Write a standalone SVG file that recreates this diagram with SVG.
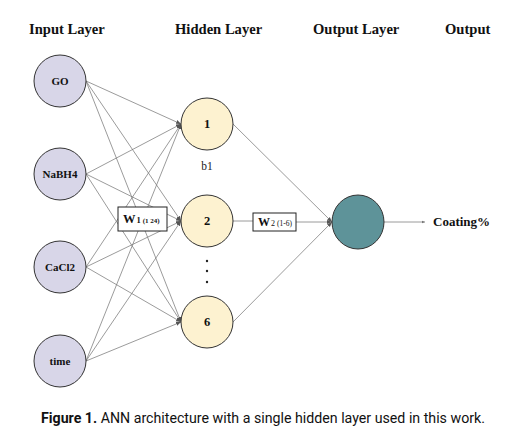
<svg xmlns="http://www.w3.org/2000/svg" width="519" height="437" viewBox="0 0 519 437">
<style>
.hdr{font-family:"Liberation Serif",serif;font-weight:bold;font-size:14.6px;fill:#111}
.lbl{font-family:"Liberation Serif",serif;font-weight:bold;font-size:11px;fill:#111;text-anchor:middle}
.num{font-family:"Liberation Serif",serif;font-weight:bold;font-size:12.5px;fill:#111;text-anchor:middle}
.in{fill:#d8d6e8;stroke:#333;stroke-width:1}
.hid{fill:#fdf2d0;stroke:#333;stroke-width:1}
.out{fill:#5e9399;stroke:#333;stroke-width:1}
.c{stroke:#7a7a7a;stroke-width:0.75;fill:none}
.box{fill:#fff;stroke:#222;stroke-width:1}
.cap{font-family:"Roboto","Liberation Sans",sans-serif;font-size:15px;fill:#111}
</style>
<defs>
<marker id="ah" viewBox="0 0 10 10" refX="10" refY="5" markerWidth="5" markerHeight="5" orient="auto" markerUnits="userSpaceOnUse">
<path d="M0,1 L10,5 L0,9 z" fill="#555"/>
</marker>
<marker id="ahs" viewBox="0 0 10 10" refX="10" refY="5" markerWidth="3.5" markerHeight="3.5" orient="auto" markerUnits="userSpaceOnUse">
<path d="M0,1 L10,5 L0,9 z" fill="#777"/>
</marker>
</defs>
<rect width="519" height="437" fill="#fff"/>
<text class="hdr" x="29" y="34">Input Layer</text>
<text class="hdr" x="175" y="34">Hidden Layer</text>
<text class="hdr" x="313" y="34">Output Layer</text>
<text class="hdr" x="445" y="34">Output</text>
<g id="connectors">
<line class="c" x1="86" y1="81" x2="181" y2="124" marker-end="url(#ah)"/>
<line class="c" x1="86" y1="81" x2="181" y2="221" marker-end="url(#ah)"/>
<line class="c" x1="86" y1="81" x2="181" y2="322" marker-end="url(#ah)"/>
<line class="c" x1="86" y1="174" x2="181" y2="124" marker-end="url(#ah)"/>
<line class="c" x1="86" y1="174" x2="181" y2="221" marker-end="url(#ah)"/>
<line class="c" x1="86" y1="174" x2="181" y2="322" marker-end="url(#ah)"/>
<line class="c" x1="86" y1="267" x2="181" y2="124" marker-end="url(#ah)"/>
<line class="c" x1="86" y1="267" x2="181" y2="221" marker-end="url(#ah)"/>
<line class="c" x1="86" y1="267" x2="181" y2="322" marker-end="url(#ah)"/>
<line class="c" x1="86" y1="361" x2="181" y2="124" marker-end="url(#ah)"/>
<line class="c" x1="86" y1="361" x2="181" y2="221" marker-end="url(#ah)"/>
<line class="c" x1="86" y1="361" x2="181" y2="322" marker-end="url(#ah)"/>
<line class="c" x1="233" y1="124" x2="332" y2="222" marker-end="url(#ah)"/>
<line class="c" x1="233" y1="322" x2="332" y2="222" marker-end="url(#ah)"/>
<line class="c" x1="233" y1="221" x2="253" y2="221"/>
<line class="c" x1="296" y1="222" x2="332" y2="222" marker-end="url(#ah)"/>
<line class="c" x1="384" y1="222" x2="425" y2="222" marker-end="url(#ahs)"/>
</g>
<g id="w1">
<rect class="box" x="118" y="207" width="49" height="24"/>
<text x="123" y="223" font-family="Liberation Serif,serif" font-weight="bold" fill="#111"><tspan font-size="12.5">W</tspan><tspan font-size="8.5" dx="1">1</tspan><tspan font-size="7" dx="2">(1 24)</tspan></text>
</g>
<g id="w2">
<rect class="box" x="253" y="213" width="43" height="18"/>
<text x="258" y="226" font-family="Liberation Serif,serif" font-weight="bold" fill="#111"><tspan font-size="12">W</tspan><tspan font-size="8" dx="1" font-weight="normal">2</tspan><tspan font-size="7.5" dx="2" font-weight="normal">(1-6)</tspan></text>
</g>
<g id="in-go"><ellipse class="in" cx="60" cy="81" rx="26" ry="26"/><text class="lbl" x="60" y="85">GO</text></g>
<g id="in-nabh4"><ellipse class="in" cx="60" cy="174" rx="26" ry="26"/><text class="lbl" x="60" y="178">NaBH4</text></g>
<g id="in-cacl2"><ellipse class="in" cx="60" cy="267" rx="26" ry="26"/><text class="lbl" x="60" y="271">CaCl2</text></g>
<g id="in-time"><ellipse class="in" cx="60" cy="361" rx="26" ry="26"/><text class="lbl" x="60" y="365">time</text></g>
<g id="h1"><ellipse class="hid" cx="207" cy="124" rx="26" ry="26"/><text class="num" x="207" y="128">1</text></g>
<text x="207" y="170" font-family="Liberation Serif,serif" font-size="11.5" fill="#222" text-anchor="middle">b1</text>
<g id="h2"><ellipse class="hid" cx="207" cy="221" rx="26" ry="26"/><text class="num" x="207" y="225">2</text></g>
<g id="dots" fill="#222"><circle cx="207" cy="261" r="1.2"/><circle cx="207" cy="271" r="1.2"/><circle cx="207" cy="282" r="1.2"/></g>
<g id="h6"><ellipse class="hid" cx="207" cy="322" rx="26" ry="26"/><text class="num" x="207" y="326">6</text></g>
<g id="out"><ellipse class="out" cx="358" cy="222" rx="26" ry="27"/></g>
<text x="433" y="226" font-family="Liberation Serif,serif" font-weight="bold" font-size="13" fill="#111">Coating%</text>
<text class="cap" x="41" y="423" textLength="444" lengthAdjust="spacingAndGlyphs"><tspan font-weight="bold">Figure 1.</tspan> ANN architecture with a single hidden layer used in this work.</text>
</svg>
